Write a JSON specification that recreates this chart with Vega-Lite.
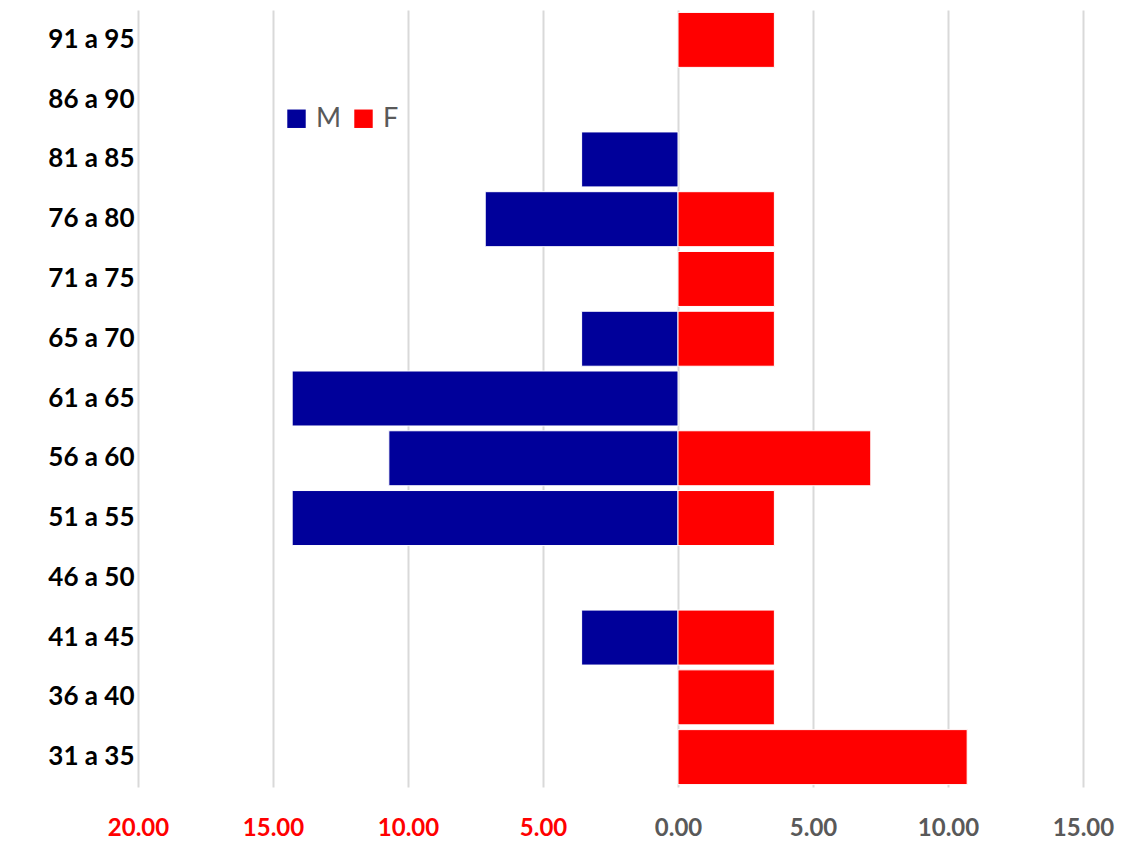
{
  "$schema": "https://vega.github.io/schema/vega-lite/v6.json",
  "width": 945,
  "height": 777,
  "autosize": {"type": "none"},
  "padding": {"left": 138, "top": 10, "right": 41, "bottom": 55},
  "background": "white",
  "config": {"view": {"stroke": null}, "font": "Lato"},
  "data": {
    "values": [
      {"age": "91 a 95", "sex": "F", "value": 3.57},
      {"age": "81 a 85", "sex": "M", "value": -3.57},
      {"age": "76 a 80", "sex": "M", "value": -7.14},
      {"age": "76 a 80", "sex": "F", "value": 3.57},
      {"age": "71 a 75", "sex": "F", "value": 3.57},
      {"age": "65 a 70", "sex": "M", "value": -3.57},
      {"age": "65 a 70", "sex": "F", "value": 3.57},
      {"age": "61 a 65", "sex": "M", "value": -14.29},
      {"age": "56 a 60", "sex": "M", "value": -10.71},
      {"age": "56 a 60", "sex": "F", "value": 7.14},
      {"age": "51 a 55", "sex": "M", "value": -14.29},
      {"age": "51 a 55", "sex": "F", "value": 3.57},
      {"age": "41 a 45", "sex": "M", "value": -3.57},
      {"age": "41 a 45", "sex": "F", "value": 3.57},
      {"age": "36 a 40", "sex": "F", "value": 3.57},
      {"age": "31 a 35", "sex": "F", "value": 10.71}
    ]
  },
  "mark": {"type": "bar", "stroke": "white", "strokeWidth": 1},
  "encoding": {
    "y": {
      "field": "age",
      "type": "nominal",
      "scale": {
        "domain": ["91 a 95", "86 a 90", "81 a 85", "76 a 80", "71 a 75", "65 a 70", "61 a 65", "56 a 60", "51 a 55", "46 a 50", "41 a 45", "36 a 40", "31 a 35"],
        "paddingInner": 0.08,
        "paddingOuter": 0.04
      },
      "axis": {
        "title": null,
        "domain": false,
        "ticks": false,
        "labelFontSize": 26,
        "labelFontWeight": "bold",
        "labelColor": "black",
        "labelPadding": 4
      }
    },
    "x": {
      "field": "value",
      "type": "quantitative",
      "scale": {"domain": [-20, 15], "nice": false, "zero": false},
      "axis": {
        "title": null,
        "values": [-20, -15, -10, -5, 0, 5, 10, 15],
        "labelExpr": "format(abs(datum.value), '.2f')",
        "labelColor": {"condition": {"test": "datum.value < 0", "value": "#FF0000"}, "value": "#595959"},
        "labelFontSize": 24,
        "labelFontWeight": "bold",
        "labelPadding": 29,
        "labelFlush": false,
        "domain": false,
        "ticks": false,
        "grid": true,
        "gridColor": "#D9D9D9",
        "gridWidth": 2
      }
    },
    "color": {
      "field": "sex",
      "type": "nominal",
      "scale": {"domain": ["M", "F"], "range": ["#00009A", "#FF0000"]},
      "legend": {
        "title": null,
        "orient": "none",
        "legendX": 145,
        "legendY": 95,
        "direction": "horizontal",
        "symbolType": "square",
        "symbolSize": 340,
        "symbolStrokeWidth": 0,
        "labelFontSize": 27,
        "labelColor": "#595959",
        "labelFont": "Lato",
        "columnPadding": 8,
        "labelOffset": 6
      }
    }
  }
}
